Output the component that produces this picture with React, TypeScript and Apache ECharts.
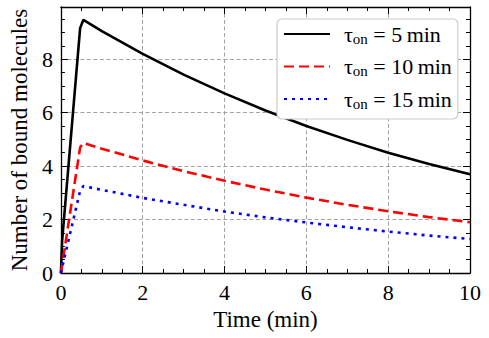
import React, { useEffect, useRef } from "react";
import * as echarts from "echarts";

const times = [0, 0.03, 0.47, 0.55, 1, 2, 3, 4, 5, 6, 7, 8, 9, 10];
const tau5 = [0, 1.2, 9.16, 9.47, 9.05, 8.2, 7.42, 6.72, 6.08, 5.5, 4.98, 4.5, 4.08, 3.69];
const tau10 = [0, 0.3, 4.7, 4.86, 4.65, 4.21, 3.81, 3.45, 3.12, 2.82, 2.55, 2.31, 2.09, 1.9];
const tau15 = [0, 0.2, 3.08, 3.25, 3.11, 2.81, 2.55, 2.3, 2.08, 1.89, 1.71, 1.55, 1.4, 1.27];
const tauValues = ["5", "10", "15"];
const xTitle = "Time (min)";
const yTitle = "Number of bound molecules";

const FONT = "Liberation Serif";

function makeAxes(kind: "x" | "y", max: number) {
  const minorPos = kind === "x" ? ["bottom", "top"] : ["left", "right"];
  const axes: any[] = [];
  minorPos.forEach((pos, idx) => {
    axes.push({
      type: "value",
      position: pos,
      min: 0,
      max,
      interval: 0.5,
      axisLine: { show: true, onZero: false, lineStyle: { color: "#000", width: 1.3 } },
      axisTick: { show: true, inside: true, length: 4, lineStyle: { color: "#000", width: 1 } },
      axisLabel: idx === 0
        ? {
            show: true,
            formatter: (v: number) => (Math.abs(v % 2) < 1e-9 && v <= (kind === "x" ? 10 : 8) ? String(v) : ""),
            fontFamily: FONT,
            fontSize: 22,
            color: "#000",
            margin: 8,
          }
        : { show: false },
      splitLine: { show: false },
      ...(idx === 0
        ? {
            name: kind === "x" ? xTitle : yTitle,
            nameLocation: "middle",
            nameGap: kind === "x" ? 32 : 29,
            nameTextStyle: { fontFamily: FONT, fontSize: 23, color: "#000" },
          }
        : {}),
    });
    axes.push({
      type: "value",
      position: pos,
      min: 0,
      max,
      interval: 2,
      axisLine: { show: false, onZero: false },
      axisTick: { show: true, inside: true, length: 7, lineStyle: { color: "#000", width: 1 } },
      axisLabel: { show: false },
      splitLine: idx === 0
        ? { show: true, showMinLine: false, showMaxLine: false, lineStyle: { type: [4, 2.5], color: "#999", width: 0.9 } }
        : { show: false },
    });
  });
  return axes;
}

export default function App() {
  const ref = useRef<HTMLDivElement>(null);
  useEffect(() => {
    if (!ref.current) return;
    const chart = echarts.init(ref.current, null, { renderer: "svg" });
    const seriesDefs = [
      { vals: tau5, color: "#000000", type: "solid" as any },
      { vals: tau10, color: "#ff0000", type: [10, 5] as any },
      { vals: tau15, color: "#0000ff", type: [3, 5] as any },
    ];
    const names = tauValues.map((v) => `tau_on = ${v} min`);
    chart.setOption({
      animation: false,
      backgroundColor: "#fff",
      grid: { left: 55, right: 19, top: 7, bottom: 65, containLabel: false },
      xAxis: makeAxes("x", 10),
      yAxis: makeAxes("y", 9.95),
      legend: {
        orient: "vertical",
        left: 277,
        top: 19,
        data: names,
        backgroundColor: "#fff",
        borderColor: "#cccccc",
        borderWidth: 1.2,
        borderRadius: 5,
        padding: [3, 6, 8, 6],
        itemWidth: 46,
        itemHeight: 22,
        itemGap: 8.5,
        itemStyle: { opacity: 0 },
        formatter: (name: string) => {
          const i = names.indexOf(name);
          return `{sp|}{t|τ}{s|on}{t| = ${tauValues[i]}\u2009min}`;
        },
        textStyle: {
          fontFamily: FONT,
          rich: {
            sp: { width: 9 },
            t: { fontFamily: FONT, fontSize: 22, color: "#000", lineHeight: 22 },
            s: { fontFamily: FONT, fontSize: 15, color: "#000", padding: [9, 0, 0, 0], lineHeight: 13 },
          },
        },
      },
      series: seriesDefs.map((s, i) => ({
        name: names[i],
        type: "line",
        xAxisIndex: 0,
        yAxisIndex: 0,
        symbol: "none",
        data: times.map((t, j) => [t, s.vals[j]]),
        lineStyle: { color: s.color, width: 2.6, type: s.type, cap: "butt" },
        itemStyle: { color: s.color },
      })),
    });
    return () => chart.dispose();
  }, []);
  return <div ref={ref} style={{ width: 489, height: 338, position: "absolute", left: 0, top: 0 }} />;
}
